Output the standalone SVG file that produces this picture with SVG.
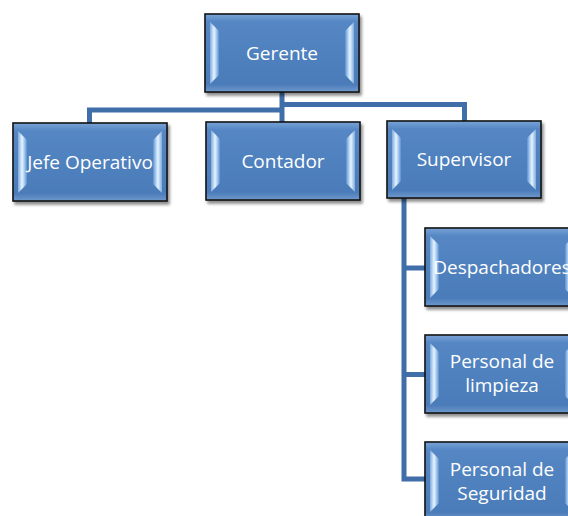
<svg xmlns="http://www.w3.org/2000/svg" width="568" height="516" viewBox="0 0 568 516">
  <style>
    .box { fill: url(#boxFill); stroke: #141414; stroke-width: 1.6; filter: url(#shadow); }
    .bevelL { fill: url(#bevelLeft); }
    .bevelR { fill: url(#bevelRight); }
    .label { font-family: "Open Sans", "Noto Sans", "Liberation Sans", sans-serif; font-size: 19px; fill: #ffffff; text-anchor: middle; }
    .conn { fill: none; stroke: #3f6ea8; stroke-width: 5; stroke-linejoin: miter; }
  </style>
  <defs>
    <linearGradient id="boxFill" x1="0" y1="0" x2="0" y2="1">
      <stop offset="0" stop-color="#7aa3d6"/>
      <stop offset="0.1" stop-color="#5587c4"/>
      <stop offset="0.5" stop-color="#4f81be"/>
      <stop offset="0.9" stop-color="#4b7cb9"/>
      <stop offset="1" stop-color="#6f98cc"/>
    </linearGradient>
    <linearGradient id="bevelLeft" x1="0" y1="0" x2="1" y2="0">
      <stop offset="0" stop-color="#7fa9dc"/>
      <stop offset="0.45" stop-color="#e6f4ff"/>
      <stop offset="0.7" stop-color="#a9cdf2"/>
      <stop offset="1" stop-color="#5d8fcc"/>
    </linearGradient>
    <linearGradient id="bevelRight" x1="1" y1="0" x2="0" y2="0">
      <stop offset="0" stop-color="#7fa9dc"/>
      <stop offset="0.45" stop-color="#e6f4ff"/>
      <stop offset="0.7" stop-color="#a9cdf2"/>
      <stop offset="1" stop-color="#5d8fcc"/>
    </linearGradient>
    <filter id="shadow" x="-10%" y="-10%" width="125%" height="130%">
      <feGaussianBlur in="SourceAlpha" stdDeviation="1.8"/>
      <feOffset dx="1.5" dy="2.5" result="blur"/>
      <feComponentTransfer><feFuncA type="linear" slope="0.45"/></feComponentTransfer>
      <feMerge><feMergeNode/><feMergeNode in="SourceGraphic"/></feMerge>
    </filter>
  </defs>

  <!-- connectors -->
  <g id="connectors">
    <path class="conn" d="M282,91 V122"/>
    <path class="conn" d="M282,110 H89.5 V123"/>
    <path class="conn" d="M282,104.5 H464.5 V121"/>
    <path class="conn" d="M404,197 V479 H425"/>
    <path class="conn" d="M404,268 H425"/>
    <path class="conn" d="M404,374.5 H425"/>
  </g>

  <!-- nodes: each box is 154 x 78 -->
  <g id="gerente" transform="translate(205,14)">
    <rect class="box" width="154" height="78"/>
    <polygon class="bevelL" points="5,8 14,17 14,61 5,70"/>
    <polygon class="bevelR" points="149,8 140,17 140,61 149,70"/>
    <text class="label" x="77" y="45.5">Gerente</text>
  </g>

  <g id="jefe-operativo" transform="translate(13,123)">
    <rect class="box" width="154" height="78"/>
    <polygon class="bevelL" points="5,8 14,17 14,61 5,70"/>
    <polygon class="bevelR" points="149,8 140,17 140,61 149,70"/>
    <text class="label" x="77" y="45.5">Jefe Operativo</text>
  </g>

  <g id="contador" transform="translate(206,122)">
    <rect class="box" width="154" height="78"/>
    <polygon class="bevelL" points="5,8 14,17 14,61 5,70"/>
    <polygon class="bevelR" points="149,8 140,17 140,61 149,70"/>
    <text class="label" x="77" y="45.5">Contador</text>
  </g>

  <g id="supervisor" transform="translate(387,121)">
    <rect class="box" width="154" height="77"/>
    <polygon class="bevelL" points="5,8 14,17 14,60 5,69"/>
    <polygon class="bevelR" points="149,8 140,17 140,60 149,69"/>
    <text class="label" x="77" y="45">Supervisor</text>
  </g>

  <g id="despachadores" transform="translate(425,228)">
    <rect class="box" width="154" height="78"/>
    <polygon class="bevelL" points="5,8 14,17 14,61 5,70"/>
    <polygon class="bevelR" points="149,8 140,17 140,61 149,70"/>
    <text class="label" x="77" y="45.5">Despachadores</text>
  </g>

  <g id="personal-limpieza" transform="translate(425,335)">
    <rect class="box" width="154" height="78"/>
    <polygon class="bevelL" points="5,8 14,17 14,61 5,70"/>
    <polygon class="bevelR" points="149,8 140,17 140,61 149,70"/>
    <text class="label" x="77" y="33">Personal de</text>
    <text class="label" x="77" y="57">limpieza</text>
  </g>

  <g id="personal-seguridad" transform="translate(425,442)">
    <rect class="box" width="154" height="78"/>
    <polygon class="bevelL" points="5,8 14,17 14,61 5,70"/>
    <polygon class="bevelR" points="149,8 140,17 140,61 149,70"/>
    <text class="label" x="77" y="33.5">Personal de</text>
    <text class="label" x="77" y="57.5">Seguridad</text>
  </g>
</svg>
